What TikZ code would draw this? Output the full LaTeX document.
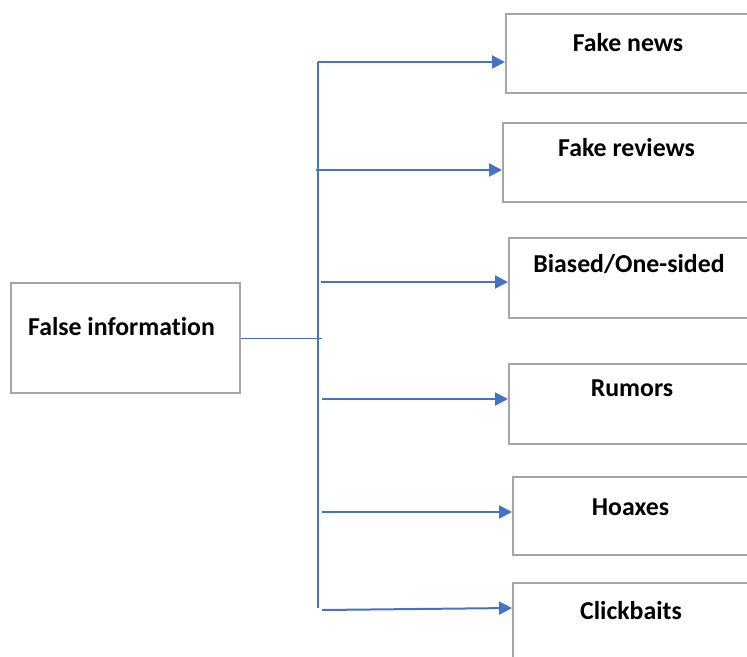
\documentclass[tikz,border=0pt]{standalone}
\usepackage{fontspec}
\setmainfont{Carlito}[Ligatures={NoCommon}]
\usetikzlibrary{arrows.meta}
\definecolor{linkblue}{HTML}{4472C4}
\definecolor{boxgray}{HTML}{A6A6A6}
\begin{document}
\begin{tikzpicture}[x=1pt,y=-1pt,
  box/.style={draw=boxgray,line width=2pt,fill=white,inner sep=0pt,anchor=north west},
  txt/.style={font=\bfseries\fontsize{25.8}{30}\selectfont,anchor=base,inner sep=0pt},
  branch/.style={draw=linkblue,line width=2pt,-{Triangle[length=13pt,width=13pt]}},
  trunk/.style={draw=linkblue,line width=1.4pt},
  stem/.style={draw=linkblue,line width=1pt}]
\useasboundingbox (0,0) rectangle (747,656);
\clip (0,0) rectangle (747,656);

% source box
\node[box,minimum width=229pt,minimum height=110pt] (src) at (10,282) {};
\node[txt] (srct) at (121.5,335) {False information};

% target boxes (they run past the right edge)
\node[box,minimum width=252pt,minimum height=79pt] (b1) at (505,13) {};
\node[box,minimum width=255pt,minimum height=79pt] (b2) at (502,122) {};
\node[box,minimum width=249pt,minimum height=80pt] (b3) at (508,237) {};
\node[box,minimum width=249pt,minimum height=80pt] (b4) at (508,363) {};
\node[box,minimum width=245pt,minimum height=78pt] (b5) at (512,476) {};
\node[box,minimum width=245pt,minimum height=90pt] (b6) at (512,582) {};

\node[txt] (t1) at (628,51.7) {Fake news};
\node[txt] (t2) at (626.6,156) {Fake reviews};
\node[txt] (t3) at (629,272.3) {Biased/One-sided};
\node[txt] (t4) at (632,396.7) {Rumors};
\node[txt] (t5) at (630.5,515.7) {Hoaxes};
\node[txt] (t6) at (631,619.3) {Clickbaits};

% trunk and branch points
\coordinate (top) at (318,62);
\coordinate (bot) at (318,608);
\coordinate (join) at (322,338);
\coordinate (p1) at (318,62);
\coordinate (p2) at (316,170);
\coordinate (p3) at (321,282);
\coordinate (p4) at (322,399);
\coordinate (p5) at (322,512);
\coordinate (p6) at (322,610);

\draw[stem] (src.east |- join) -- (join);
\draw[trunk] (top) -- (bot);

\draw[branch] (p1) -- (p1 -| b1.west);
\draw[branch] (p2) -- (p2 -| b2.west);
\draw[branch] (p3) -- (p3 -| b3.west);
\draw[branch] (p4) -- (p4 -| b4.west);
\draw[branch] (p5) -- (p5 -| b5.west);
\draw[branch] (p6) -- ([yshift=2pt]p6 -| b6.west);
\end{tikzpicture}
\end{document}
